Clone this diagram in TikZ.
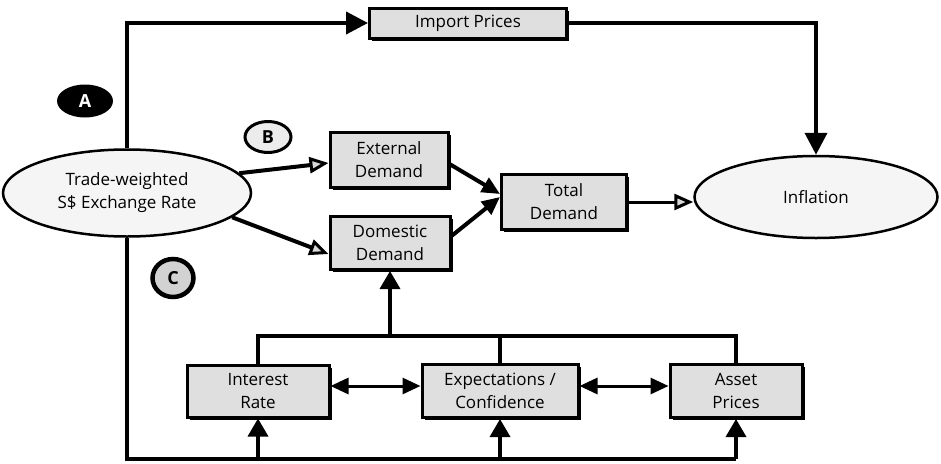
\documentclass[tikz,border=0pt]{standalone}
\usepackage{fontspec}
\setmainfont{Open Sans}
\usetikzlibrary{arrows.meta,shapes.geometric,shadows,calc}
\begin{document}
\begin{tikzpicture}[x=1pt,y=-1pt,
  every node/.style={font=\fontsize{17}{23}\selectfont, align=center, inner sep=0pt},
  boxnode/.style={draw=black, line width=3pt, fill=gray!25, rectangle,
     drop shadow={shadow xshift=2.5pt, shadow yshift=-2.5pt, fill=black, opacity=1}},
  ellnode/.style={draw=black, line width=2.5pt, fill=gray!8, ellipse},
  conn/.style={draw=black, line width=4pt},
  bus/.style={draw=black, line width=3.5pt},
  bigtip/.style={-{Triangle[length=22pt,width=22pt]}},
  uptip/.style={-{Triangle[length=18pt,width=20pt]}},
  opentip/.style={-{Triangle[open,length=19pt,width=16pt,line width=3pt,fill=gray!30]}},
  midtip/.style={-{Triangle[length=18pt,width=16pt]}},
  bitip/.style={{Triangle[length=18pt,width=16pt]}-{Triangle[length=18pt,width=16pt]}},
  tag/.style={ellipse, line width=3pt, font=\fontsize{18}{20}\selectfont\bfseries}
]
\useasboundingbox (0,0) rectangle (941,463);

% nodes
\node[ellnode, minimum width=248pt, minimum height=87pt] (tw) at (127,193) {Trade-weighted\\S\$ Exchange Rate};
\node[ellnode, minimum width=243pt, minimum height=82pt] (inf) at (816,197) {Inflation};
\node[boxnode, minimum width=197pt, minimum height=30pt] (imp) at (468,23) {Import Prices};
\node[boxnode, minimum width=118pt, minimum height=55pt] (ext) at (389,160) {External\\Demand};
\node[boxnode, minimum width=120pt, minimum height=53pt] (dom) at (390,243) {Domestic\\Demand};
\node[boxnode, minimum width=125pt, minimum height=55pt] (tot) at (564,202) {Total\\Demand};
\node[boxnode, minimum width=142pt, minimum height=52pt] (int) at (258,391) {Interest\\Rate};
\node[boxnode, minimum width=156pt, minimum height=53pt] (exp) at (500,391) {Expectations /\\Confidence};
\node[boxnode, minimum width=132pt, minimum height=53pt] (ast) at (736,391) {Asset\\Prices};

% tags
\node[tag, fill=black, text=white, minimum width=56pt, minimum height=33pt] (ta) at (85,101) {A};
\node[tag, draw=black, fill=gray!15, minimum width=46pt, minimum height=31pt] (tb) at (268,137) {B};
\node[tag, draw=black, fill=gray!35, line width=4.5pt, minimum width=41pt, minimum height=38pt] (tc) at (173,278) {C};

% bus coordinates
\coordinate (topbus) at (0,336);
\coordinate (botbus) at (0,459);

% channel A
\draw[conn, bigtip] (tw.north) |- (imp.west);
\draw[conn, bigtip] (imp.east) -| (inf.north);

% channel B
\draw[conn, opentip] (tw.10) -- ([yshift=-3pt]ext.west);
\draw[conn, opentip] (tw.-13) -- ([yshift=-11pt]dom.west);
\draw[conn, midtip] ([yshift=-4pt]ext.east) -- ([yshift=8pt]tot.west);
\draw[conn, midtip] ([yshift=7pt]dom.east) -- ([yshift=5pt]tot.west);
\draw[line width=3pt, opentip] (tot.east) -- (tot.east -| inf.west);

% channel C
\draw[bus] (int.north) -- (int.north |- topbus) -- (ast.north |- topbus) -- (ast.north);
\draw[bus] (exp.north) -- (exp.north |- topbus);
\draw[bus, uptip] (dom.south |- topbus) -- (dom.south);
\draw[line width=3pt, bitip] ([yshift=5pt]int.east) -- ([yshift=5pt]exp.west);
\draw[line width=3pt, bitip] ([yshift=5pt]exp.east) -- ([yshift=5pt]ast.west);
\draw[bus] (tw.south) -- (tw.south |- botbus) -- (ast.south |- botbus);
\draw[bus, uptip] (int.south |- botbus) -- (int.south);
\draw[bus, uptip] (exp.south |- botbus) -- (exp.south);
\draw[bus, uptip] (ast.south |- botbus) -- (ast.south);
\end{tikzpicture}
\end{document}
